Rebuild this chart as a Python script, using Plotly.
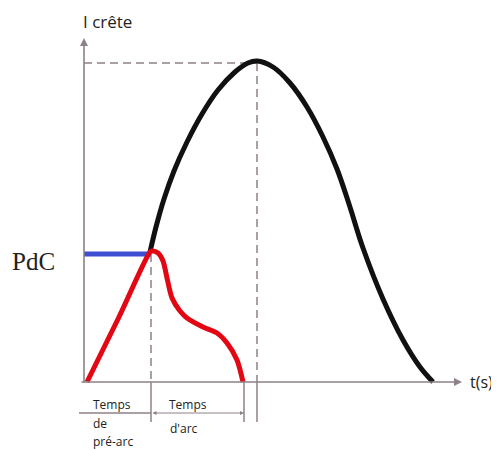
import plotly.graph_objects as go

# Courant présumé (noir) : du point de coupure jusqu'au retour à zéro
black_t = [66, 72, 80, 90, 103, 118, 134, 151, 164, 173, 189, 206, 223, 239, 253, 265, 279, 299, 319, 336, 349]
black_i = [130, 155, 183, 211, 240, 268, 292, 310, 319, 321, 315, 299, 275, 245, 213, 178, 134, 83, 42, 15, 0]

# Courant coupé (rouge)
red_t = [3, 35, 66, 68, 74, 79, 83, 88, 96, 103, 119, 133, 143, 153, 159]
red_i = [0, 65, 130, 131, 129, 121, 104, 84, 71, 64, 55, 49, 39, 22, 0]

# Pouvoir de coupure (bleu)
pdc_t = [0, 67]
pdc_i = [128, 128]

t_prearc = 67
t_arc_end = 160
t_peak = 173
i_peak = 319

AXIS = "#8e8088"
TXT = "#222222"
FONT = "Open Sans"

fig = go.Figure()
fig.add_trace(go.Scatter(x=black_t, y=black_i, mode="lines",
                         line={"color": "#111111", "width": 5, "shape": "spline", "smoothing": 1}))
fig.add_trace(go.Scatter(x=pdc_t, y=pdc_i, mode="lines",
                         line={"color": "#3f4fd2", "width": 5}))
fig.add_trace(go.Scatter(x=red_t, y=red_i, mode="lines",
                         line={"color": "#e30613", "width": 5, "shape": "spline", "smoothing": 0.8}))

dash = {"color": AXIS, "width": 1.5, "dash": "8px,5px"}
solid = {"color": AXIS, "width": 1.5}
shapes = [
    # pointillés
    {"type": "line", "x0": 0, "x1": t_peak, "y0": i_peak, "y1": i_peak, "line": dash},
    {"type": "line", "x0": t_peak, "x1": t_peak, "y0": i_peak, "y1": 0, "line": dash},
    {"type": "line", "x0": t_prearc, "x1": t_prearc, "y0": pdc_i[0], "y1": 0, "line": dash},
    # repères sous l'axe
    {"type": "line", "x0": t_prearc, "x1": t_prearc, "y0": 0, "y1": -40, "line": solid},
    {"type": "line", "x0": t_arc_end, "x1": t_arc_end, "y0": 0, "y1": -40, "line": solid},
    {"type": "line", "x0": t_peak, "x1": t_peak, "y0": 0, "y1": -40, "line": solid},
    {"type": "line", "x0": -5, "x1": t_prearc, "y0": -31, "y1": -31, "line": solid},
]
for s in shapes:
    s.update(xref="x", yref="y", layer="below")


def label(x, y, text, size=12, anchor="left", family=FONT):
    return dict(x=x, y=y, text=text, showarrow=False, xanchor=anchor,
                font={"family": family, "size": size, "color": TXT})


annotations = [
    # axes avec flèches
    dict(x=0, y=344, ax=0, ay=-2, axref="x", ayref="y", showarrow=True,
         arrowhead=2, arrowsize=1, arrowwidth=1.6, arrowcolor=AXIS, text=""),
    dict(x=378, y=0, ax=-4, ay=0, axref="x", ayref="y", showarrow=True,
         arrowhead=2, arrowsize=1, arrowwidth=1.6, arrowcolor=AXIS, text=""),
    # flèche du temps d'arc
    dict(x=t_arc_end, y=-31, ax=t_prearc, ay=-31, axref="x", ayref="y", showarrow=True,
         arrowhead=2, startarrowhead=2, arrowside="end+start", arrowsize=0.8,
         startarrowsize=0.8, arrowwidth=1, arrowcolor=AXIS, text=""),
    # textes
    label(-3, 361, "I crête", size=17),
    label(-27, 121, "PdC", size=25, anchor="right", family="Liberation Serif"),
    label(384, 0, "t(s)", size=16),
    label(7, -22, "Temps"),
    label(7, -41, "de"),
    label(7, -59, "pré-arc"),
    label(83, -22, "Temps"),
    label(84, -46, "d'arc"),
]

fig.update_layout(
    width=499, height=450, autosize=False,
    margin={"l": 0, "r": 0, "t": 0, "b": 0},
    paper_bgcolor="white", plot_bgcolor="white",
    showlegend=False,
    # la page ajoute une marge de 8 px : l'origine tombe à (84, 382)
    xaxis={"range": [-76, 423], "visible": False, "fixedrange": True},
    yaxis={"range": [-76, 374], "visible": False, "fixedrange": True},
    shapes=shapes,
    annotations=annotations,
)

fig.write_html("out.html")
